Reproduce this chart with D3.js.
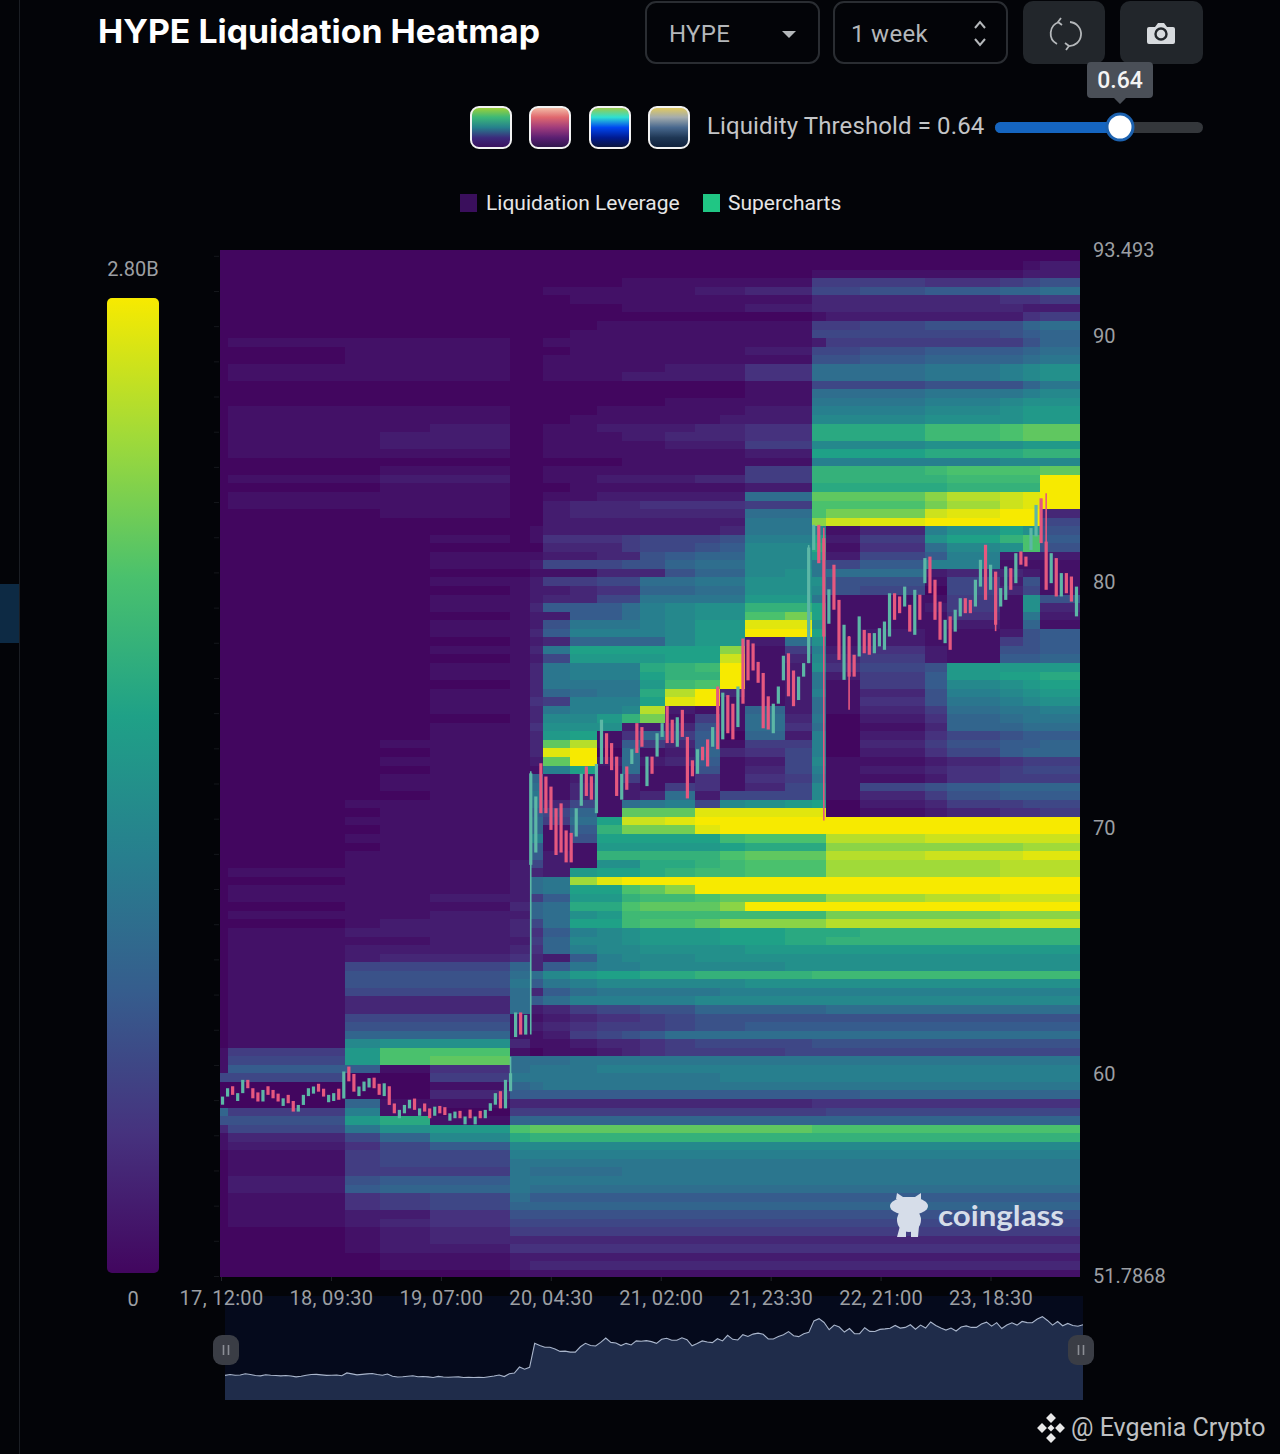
<!DOCTYPE html>
<html>
<head>
<meta charset="utf-8">
<title>HYPE Liquidation Heatmap</title>
<script src="https://cdn.jsdelivr.net/npm/d3@7"></script>
<style>
  html, body { margin: 0; padding: 0; background: #030408; }
  svg { display: block; }
  text { font-family: Roboto, "Noto Sans", sans-serif; }
</style>
</head>
<body>
<div id="chart"></div>
<script>
// price and time limits of the heatmap (hours from 17, 12:00)
const priceMax = 93.493;
const priceMin = 51.7868;
const hoursTotal = 168;
const priceTicks = [93.493, 90, 80, 70, 60, 51.7868];
const timeTicks = [0, 21.5, 43, 64.5, 86, 107.5, 129, 150.5];
const timeLabels = ["17, 12:00", "18, 09:30", "19, 07:00", "20, 04:30", "21, 02:00", "21, 23:30", "22, 21:00", "23, 18:30"];
const rowOffset = 0.3; // rows sit a little below the top of the axis

// start hour of each heatmap column, last entry closes the last one
const columnHours = [0, 1.6, 24.4, 31.3, 41.1, 56.7, 60.6, 63.2, 68.5, 73.7, 78.6, 82.1, 87, 92.9, 97.8, 102.7, 110.5, 115.8, 118.5, 125.2, 137.9, 142.2, 152.5, 157, 160.4, 168];

// liquidation leverage per price row (top to bottom) and column, in 0.1B units
const heatRows = [
  [0,0,0,0,0,0,0,0,0,0,0,0,0,0,0,0,0,0,0,0,0,0,0,0,0],
  [0,0,0,0,0,0,0,0,0,0,0,0,0,0,0,0,0,0,0,0,0,0,0,1,2],
  [0,0,0,0,0,0,0,0,0,0,0,0,0,0,0,0,0,1,1,1,1,1,1,2,2],
  [0,0,0,0,0,0,0,0,0,0,1,1,1,1,1,1,1,5,5,5,4,4,5,6,7],
  [0,0,0,0,0,0,0,1,1,1,1,1,1,2,2,3,3,6,6,7,8,8,9,9,10],
  [0,0,0,0,0,0,0,0,1,1,1,1,1,1,1,1,1,3,3,3,3,3,4,4,5],
  [0,0,0,0,0,0,0,0,0,0,1,1,1,1,1,2,2,3,3,3,3,3,3,2,2],
  [0,0,0,0,0,0,0,0,0,0,0,0,0,0,0,0,0,1,2,2,2,2,2,4,5],
  [0,0,0,0,0,0,0,0,0,1,1,1,1,1,1,1,1,5,5,6,7,7,7,9,10],
  [0,0,0,0,0,0,0,0,1,1,1,1,1,1,1,1,1,6,6,6,6,6,7,8,9],
  [0,1,1,1,1,0,0,1,1,1,1,1,1,1,1,1,1,2,5,5,5,5,5,7,9],
  [0,0,1,1,1,0,0,0,1,1,1,1,1,1,1,2,2,6,6,7,8,8,8,9,10],
  [0,0,1,1,1,0,0,1,1,1,1,1,1,1,1,1,1,7,7,8,9,9,9,10,11],
  [0,1,1,1,1,0,0,1,1,1,1,1,2,2,2,4,4,10,10,10,11,11,12,13,14],
  [0,1,1,1,1,0,0,1,1,1,2,2,2,2,2,4,4,10,10,10,11,11,12,13,14],
  [0,0,0,0,0,0,0,0,0,0,0,0,0,0,0,1,1,6,6,6,7,7,7,9,11],
  [0,0,0,0,0,0,0,0,0,0,0,0,0,0,0,1,1,10,10,10,11,11,11,12,13],
  [0,0,0,0,0,0,0,0,0,0,0,0,1,1,1,1,1,11,11,11,12,12,13,14,14],
  [0,1,1,1,1,0,0,0,0,1,1,1,1,1,1,2,2,12,12,12,13,13,14,15,15],
  [0,1,1,1,1,0,0,0,1,1,1,1,1,1,2,2,2,13,13,13,14,14,14,15,15],
  [0,1,1,1,2,0,0,1,1,2,2,2,2,3,3,4,4,17,17,17,19,19,20,21,21],
  [0,1,1,2,2,0,0,1,1,1,2,2,3,3,3,4,4,17,17,17,19,19,20,21,21],
  [0,1,1,2,2,0,0,1,1,1,1,1,2,2,2,5,5,13,13,13,14,14,14,15,15],
  [0,1,1,1,1,0,0,1,1,1,1,1,1,1,1,2,2,16,16,16,17,17,17,18,18],
  [0,0,0,0,0,0,0,0,0,0,1,1,1,1,1,1,1,12,12,12,12,12,13,13,13],
  [0,0,0,1,1,0,0,1,1,1,1,1,1,1,1,5,5,18,18,18,19,20,20,20,21],
  [0,1,1,2,2,0,0,1,1,2,2,2,2,3,3,5,5,18,18,18,18,19,19,19,28],
  [0,0,0,1,1,0,0,0,1,1,1,1,1,1,1,2,2,17,17,17,17,18,18,18,28],
  [0,1,1,1,1,0,0,1,1,2,2,2,2,2,2,10,10,21,21,21,23,25,26,27,28],
  [0,1,1,1,1,0,0,2,3,3,3,4,4,4,4,5,5,20,20,20,22,24,26,27,28],
  [0,0,0,1,1,0,0,2,3,3,3,3,3,3,3,10,10,20,22,22,26,27,28,28,3],
  [0,0,0,0,0,0,0,2,2,2,2,2,2,2,2,11,11,23,26,27,28,28,28,28,6],
  [0,0,0,0,0,0,1,2,2,2,2,2,2,2,3,11,11,12,1,3,12,14,16,14,7],
  [0,0,0,0,1,0,1,4,4,4,5,6,6,6,7,12,12,16,2,5,14,16,18,20,8],
  [0,0,0,0,0,0,0,3,3,3,5,6,6,7,8,13,13,17,1,4,10,13,14,20,7],
  [0,0,0,0,1,1,1,2,2,3,3,7,8,9,9,13,13,15,2,6,8,12,2,2,2],
  [0,0,0,0,1,1,2,6,6,6,7,7,9,10,10,13,13,11,6,8,12,12,1,1,1],
  [0,0,0,0,0,0,1,1,1,3,3,3,7,9,9,13,14,11,10,10,2,3,3,2,1],
  [0,0,0,0,1,1,2,5,5,6,6,10,10,11,11,14,14,14,7,7,1,6,2,7,1],
  [0,0,0,0,0,1,2,2,3,4,4,9,9,10,10,14,14,13,7,6,0,6,3,6,1],
  [0,0,0,0,1,1,2,3,3,6,6,11,11,11,11,15,15,11,1,1,1,5,1,14,7],
  [0,0,0,0,1,1,3,8,8,8,10,12,13,14,14,18,18,16,1,1,2,5,1,14,3],
  [0,0,0,0,0,1,2,2,8,8,10,12,13,14,14,20,22,16,1,1,1,4,1,11,2],
  [0,0,0,0,1,1,2,7,11,11,11,12,13,15,15,27,27,14,1,1,1,2,1,9,1],
  [0,0,0,0,1,1,3,8,12,12,12,12,13,15,15,28,28,16,1,2,1,1,2,7,8],
  [0,0,0,0,0,1,2,3,9,9,9,9,13,15,15,2,10,14,1,2,1,1,5,7,8],
  [0,0,0,0,1,1,3,11,16,16,16,16,16,16,23,1,5,12,2,4,2,1,7,7,8],
  [0,0,0,0,0,1,2,6,15,15,15,15,16,16,26,1,3,13,3,5,2,1,8,8,9],
  [0,0,0,0,1,1,3,11,12,12,12,17,18,19,28,1,2,14,4,6,7,15,15,15,15],
  [0,0,0,0,1,1,3,11,12,12,12,16,18,18,28,1,2,11,2,5,8,15,16,16,17],
  [0,0,0,0,0,1,3,11,11,11,11,15,19,20,28,1,2,11,1,5,8,13,14,15,16],
  [0,0,0,0,1,1,3,9,10,11,11,17,25,28,3,1,2,12,1,3,7,12,13,14,15],
  [0,0,0,0,1,1,4,5,12,12,12,16,27,28,1,1,2,10,1,4,7,11,12,13,14],
  [0,0,0,0,1,1,3,11,12,12,13,25,2,1,1,9,2,10,1,3,5,10,11,11,12],
  [0,0,0,0,0,1,3,13,13,15,18,22,1,5,1,10,3,11,0,2,4,9,10,11,11],
  [0,0,0,0,1,1,4,14,14,14,2,2,3,7,1,10,4,10,0,1,3,9,9,10,10],
  [0,0,0,0,1,1,3,15,16,1,4,9,5,8,0,9,2,12,0,2,4,6,7,8,8],
  [0,0,0,1,1,1,3,21,25,1,8,5,3,8,1,5,5,12,0,3,5,7,8,8,9],
  [0,0,0,0,1,1,3,27,28,0,10,1,2,9,3,4,6,12,0,2,4,6,8,9,9],
  [0,0,0,1,1,1,2,21,28,2,10,2,3,8,1,2,6,13,1,1,2,3,4,5,5],
  [0,0,0,0,1,1,1,12,16,1,10,1,1,7,1,3,6,12,1,2,3,4,5,6,6],
  [0,0,0,1,1,1,9,1,2,1,5,1,1,4,1,4,5,11,1,1,2,4,5,5,5],
  [0,0,0,1,1,1,10,1,3,1,2,1,5,4,1,3,6,13,1,6,7,8,9,9,9],
  [0,0,0,0,1,1,11,1,3,1,2,3,10,2,6,6,6,13,1,3,5,7,8,8,8],
  [0,0,1,1,1,1,10,3,6,1,10,11,12,6,13,14,15,16,0,2,3,5,5,6,6],
  [0,0,0,1,1,1,8,6,9,1,21,21,21,27,27,27,27,27,0,1,2,3,4,4,5],
  [0,0,1,1,1,1,9,5,10,16,26,26,27,28,28,28,28,28,28,28,28,28,28,28,28],
  [0,0,0,1,1,1,9,1,8,18,22,22,22,27,28,28,28,28,28,28,28,28,28,28,28],
  [0,0,1,1,1,1,12,1,7,16,16,16,16,16,19,20,20,20,25,25,26,26,26,26,26],
  [0,0,0,1,1,1,8,1,1,15,15,15,15,15,16,17,17,17,23,23,23,23,23,24,24],
  [0,0,1,1,1,1,8,2,1,18,18,18,18,18,20,21,21,21,25,25,26,26,26,27,27],
  [0,0,1,1,1,2,6,2,1,14,14,17,17,18,19,20,20,20,24,24,24,24,25,25,25],
  [0,1,1,1,1,2,3,2,15,16,16,17,18,19,19,20,20,20,24,24,24,24,25,25,25],
  [0,0,1,1,1,2,10,11,24,27,28,28,28,28,28,28,28,28,28,28,28,28,28,28,28],
  [0,1,1,1,1,2,10,11,16,16,20,21,23,28,28,28,28,28,28,28,28,28,28,28,28],
  [0,1,1,1,2,2,5,8,15,15,18,19,19,20,21,21,21,21,24,24,25,25,26,26,26],
  [0,0,1,1,1,3,9,10,17,17,20,21,21,21,23,28,28,28,28,28,28,28,28,28,28],
  [0,1,1,1,2,2,9,10,14,15,19,19,19,19,19,19,19,19,22,22,22,22,23,23,23],
  [0,0,1,2,2,3,6,10,16,16,19,20,20,21,23,23,23,23,25,25,25,25,26,26,26],
  [0,1,2,2,2,3,4,8,12,13,14,15,15,15,16,16,17,17,17,18,18,18,18,18,18],
  [0,1,1,1,2,2,5,9,13,13,14,15,15,15,16,16,17,17,18,18,18,18,18,18,18],
  [0,1,2,2,2,3,4,9,12,13,13,14,14,14,14,15,15,15,15,15,15,15,15,15,15],
  [0,1,2,3,3,4,3,2,8,12,13,13,13,14,14,14,14,14,14,14,14,14,14,14,14],
  [0,1,6,6,6,9,3,8,11,12,12,13,13,13,13,13,14,14,14,14,14,14,14,14,14],
  [0,1,7,7,7,10,10,13,15,16,16,17,17,18,18,18,18,19,19,19,19,19,19,19,19],
  [0,1,7,7,7,11,8,11,12,13,13,13,13,13,13,14,14,14,14,14,14,14,14,14,14],
  [0,1,6,6,6,10,3,8,10,11,11,11,11,11,12,12,12,12,12,12,12,12,12,12,12],
  [0,1,3,3,3,10,8,10,12,12,12,12,12,13,13,13,13,13,13,13,13,13,13,13,13],
  [0,1,3,3,3,10,2,3,5,6,6,7,7,9,9,9,9,9,10,10,10,10,10,10,10],
  [0,1,6,6,6,1,1,2,3,4,4,5,6,7,7,7,7,7,7,7,7,7,7,7,7],
  [0,1,7,7,7,1,2,3,4,5,5,5,6,7,7,8,8,8,8,8,8,8,8,8,8],
  [0,1,9,9,9,1,1,2,5,6,7,8,10,10,10,10,10,10,10,10,10,10,10,10,10],
  [0,1,13,14,14,3,1,1,2,3,3,4,5,6,6,6,6,7,7,7,7,7,7,7,7],
  [1,5,15,20,20,1,0,1,1,2,3,4,5,5,5,5,6,6,6,6,6,6,6,6,6],
  [1,6,15,20,21,10,10,10,11,11,11,11,11,11,11,11,11,11,11,11,11,11,11,11,11],
  [1,8,8,1,4,10,11,11,11,12,12,12,12,12,12,12,12,12,12,12,12,12,12,12,12],
  [6,6,0,0,5,11,11,11,11,11,11,11,11,11,12,12,12,12,12,12,12,12,12,12,12],
  [0,0,0,0,1,9,10,11,11,11,11,11,11,11,11,11,11,11,11,11,11,11,11,11,11],
  [0,0,0,0,3,8,8,8,8,8,8,8,8,8,8,8,8,8,8,9,9,9,9,9,9],
  [0,0,9,1,1,3,3,3,3,3,3,3,3,3,3,3,3,4,4,4,4,4,4,4,4],
  [9,5,12,1,0,5,5,5,5,5,5,5,5,5,5,5,5,5,6,6,6,6,6,6,6],
  [7,7,15,17,1,9,9,9,9,9,9,9,9,9,9,9,9,9,9,9,9,9,9,9,9],
  [3,6,11,14,15,20,21,21,21,21,21,21,21,21,21,21,21,20,20,20,20,20,20,20,20],
  [1,3,6,9,13,17,18,18,18,18,18,18,18,18,18,18,18,18,18,18,18,18,18,18,18],
  [1,2,4,6,8,13,13,13,13,13,13,13,13,13,13,13,13,13,13,13,13,13,13,13,13],
  [0,1,5,6,6,12,12,12,12,12,12,12,12,12,12,12,12,12,12,12,12,12,12,12,12],
  [0,1,5,6,6,11,11,11,11,11,11,11,11,11,11,11,11,11,11,11,11,11,11,11,11],
  [0,1,5,5,5,11,10,10,10,10,11,11,11,11,11,11,11,11,11,11,11,11,11,11,11],
  [0,2,7,8,8,11,11,11,11,11,11,11,11,11,11,11,11,11,11,11,11,11,11,11,11],
  [0,2,8,9,9,11,10,10,10,10,10,10,10,10,10,10,10,10,10,10,10,10,10,10,10],
  [0,1,4,5,6,10,8,8,8,8,8,8,8,8,8,8,8,8,8,8,8,8,8,8,8],
  [0,1,4,5,6,9,9,9,9,9,9,9,9,9,9,9,9,9,9,9,9,9,9,9,9],
  [0,1,2,2,4,7,7,7,7,7,7,7,7,7,7,7,7,7,7,7,7,7,7,7,7],
  [0,1,2,3,4,6,6,6,6,6,6,6,6,6,6,6,6,6,6,6,6,6,6,6,6],
  [0,0,1,2,3,5,5,5,5,5,5,5,5,5,5,5,5,5,5,5,5,5,5,5,5],
  [0,0,1,2,3,3,3,3,3,3,3,3,3,3,3,3,3,3,3,3,3,3,3,3,3],
  [0,0,1,2,2,4,4,4,4,4,4,4,4,4,4,4,4,4,4,4,4,4,4,4,4],
  [0,0,0,1,1,2,2,2,2,2,2,2,2,2,2,2,2,2,2,2,2,2,2,2,2],
  [0,0,0,1,1,2,3,3,3,3,3,3,3,3,3,3,3,3,3,3,3,3,3,3,3],
  [0,0,0,0,0,1,1,1,1,1,1,1,1,1,1,1,1,1,1,1,1,1,1,1,1]
];

// price candles, one every hour or so
const candleOpen = [
  58.75,59.08,59.5,58.9,59.22,59.76,59.42,59.25,58.88,59.5,59.35,59.2,58.7,59.15,58.9,58.47,58.74,59.1,59.2,59.6,
  59.4,58.85,58.9,59.4,59.0,60.3,60.0,59.1,59.3,59.45,59.85,59.6,59.1,59.5,58.8,58.2,58.4,58.6,59.0,58.3,
  58.8,58.6,58.3,58.7,58.65,58.1,58.2,58.5,57.95,58.55,57.95,58.5,58.2,58.5,58.75,59.3,58.6,59.3,
  61.5,62.5,61.6,
  68.5,69.0,72.63,72.09,71.68,70.8,71.0,69.9,69.8,69.65,70.9,72.5,72.1,70.6,72.6,73.85,73.45,72.9,71.15,72.5,
  72.6,74.26,74.1,71.7,72.9,72.9,73.7,74.95,74.4,73.3,74.8,73.7,72.75,72.2,73.3,73.6,73.3,75.75,73.6,75.4,
  75.05,74.1,77.7,77.65,77.5,76.75,76.3,75.35,73.85,75.05,76.0,77.1,76.4,75.2,76.15,
  76.7,81.3,82.32,81.78,78.3,80.7,79.27,76.02,77.78,77.04,76.97,78.05,77.92,77.1,77.38,77.24,77.78,79.54,79.41,79.0,
  79.07,77.85,79.48,79.95,81.03,80.09,79.2,77.51,78.6,77.98,78.6,79.34,79.27,79.0,79.81,81.51,79.68,80.42,79.0,79.27,
  80.56,79.95,81.24,81.03,81.3,81.85,83.4,81.64,79.95,80.97,79.41,80.36,80.22,78.6
];
const candleClose = [
  59.08,59.42,59.15,59.22,59.76,59.42,59.01,58.88,59.35,59.15,59.01,58.88,59.01,58.81,58.47,58.74,59.15,59.42,59.49,59.28,
  59.08,59.15,59.22,58.95,60.1,59.7,59.28,59.49,59.69,59.83,59.42,59.15,59.62,58.74,58.4,58.54,58.74,58.95,58.54,58.6,
  58.47,58.2,58.67,58.4,58.33,58.4,58.47,58.2,58.27,58.2,58.27,58.2,58.54,58.81,59.22,58.6,59.76,60.03,
  62.5,61.6,62.4,
  72.22,71.28,70.6,70.6,69.92,68.9,69.0,68.6,68.6,70.8,72.2,71.3,71.15,72.6,74.4,72.6,72.35,71.3,72.2,71.55,
  73.2,73.05,73.3,72.9,72.2,73.85,74.26,73.45,73.45,74.5,73.7,71.2,72.1,73.2,72.75,72.5,74.1,73.2,75.5,73.85,
  73.6,75.75,75.05,76.0,76.4,75.9,74.05,74.0,75.05,75.75,77.0,75.35,74.95,76.15,76.7,
  81.4,82.32,80.76,77.78,79.7,78.87,76.83,78.26,76.15,76.15,78.6,77.1,77.04,77.92,78.12,78.39,79.54,78.46,78.73,79.81,
  77.98,79.68,78.46,80.97,79.54,78.46,77.65,78.46,77.24,78.87,79.34,78.73,78.73,80.09,80.9,79.27,80.7,78.26,79.75,80.63,
  79.68,81.17,80.7,80.63,82.19,83.13,81.58,79.68,81.17,79.41,80.36,79.54,79.2,79.81
];
// the few candles with a wick long enough to see: candle index, high, low
const longWicks = [
  [57, 60.7, 59.7],
  [61, 72.3, 61.6],
  [116, 81.5, 76.7],
  [119, 82.2, 70.3],
  [124, 77.8, 74.8],
  [153, 80.4, 78.0],
  [163, 83.6, 81.6]
];

const legendStops = ["#42065f", "#46327e", "#365c8d", "#277f8e", "#1fa187", "#4ac16d", "#a0da39", "#f7ea00"];
const legendStopValues = [0, 4, 8, 12, 16, 20, 24, 28];
const legendLabels = ["Liquidation Leverage", "Supercharts"];
const paletteSwatches = [
  ["#a6d232", "#3cb878", "#26808c", "#3c2a7c", "#3a0f5c"],
  ["#f4c4ac", "#e0686e", "#a03c7c", "#5a1f72", "#2c1648"],
  ["#a6c83c", "#2ee0d2", "#0046f0", "#001a90", "#0c1434"],
  ["#e6cc58", "#a4acae", "#48688e", "#1e3654", "#10203a"]
];

const width = 1280;
const height = 1454;

const svg = d3.select("#chart").append("svg")
  .attr("width", width)
  .attr("height", height);
const defs = svg.append("defs");

svg.append("rect").attr("width", width).attr("height", height).attr("fill", "#030408");

// page edge left of the chart
svg.append("line").attr("x1", 19.5).attr("x2", 19.5).attr("y1", 0).attr("y2", height).attr("stroke", "#1b1e24");
svg.append("rect").attr("x", 0).attr("y", 584).attr("width", 19).attr("height", 59).attr("fill", "#0d2a44");

// scales
const x = d3.scaleLinear().domain([0, hoursTotal]).range([220, 1079]);
const y = d3.scaleLinear().domain([priceMin, priceMax]).range([1276, 250]);
const color = d3.scaleLinear().domain(legendStopValues).range(legendStops).clamp(true);

// heatmap cells
const priceStep = (priceMax - priceMin) / heatRows.length;
const rowTop = (r) => r === 0 ? y(priceMax) : y(priceMax - (r + rowOffset) * priceStep);
const rowBottom = (r) => r === heatRows.length - 1 ? y(priceMin) : rowTop(r + 1);
const cells = [];
heatRows.forEach((row, r) => {
  row.forEach((v, c) => {
    cells.push({ r: r, c: c, v: v });
  });
});
svg.append("g").attr("shape-rendering", "crispEdges")
  .selectAll("rect").data(cells).join("rect")
  .attr("x", (d) => x(columnHours[d.c]))
  .attr("width", (d) => x(columnHours[d.c + 1]) - x(columnHours[d.c]) + 0.5)
  .attr("y", (d) => rowTop(d.r))
  .attr("height", (d) => rowBottom(d.r) - rowTop(d.r) + 0.5)
  .attr("fill", (d) => color(d.v));

// candles
const candleX = d3.scaleBand().domain(d3.range(candleClose.length)).range([220, 1079]);
const isUp = (i) => candleClose[i] >= candleOpen[i];
const teal = "#5cb7a6";
const pink = "#e6587f";
svg.append("g").selectAll("line").data(longWicks).join("line")
  .attr("x1", (d) => candleX(d[0]) + candleX.bandwidth() / 2)
  .attr("x2", (d) => candleX(d[0]) + candleX.bandwidth() / 2)
  .attr("y1", (d) => y(d[1]))
  .attr("y2", (d) => y(d[2]))
  .attr("stroke", (d) => isUp(d[0]) ? teal : pink)
  .attr("stroke-width", 1.6);
svg.append("g").selectAll("rect").data(d3.range(candleClose.length)).join("rect")
  .attr("x", (i) => candleX(i) + candleX.bandwidth() / 2 - 1.6)
  .attr("width", 3.2)
  .attr("y", (i) => y(Math.max(candleOpen[i], candleClose[i])))
  .attr("height", (i) => Math.max(1, Math.abs(y(candleOpen[i]) - y(candleClose[i]))))
  .attr("fill", (i) => isUp(i) ? teal : pink);

// overview strip under the chart
const overviewX = d3.scaleLinear().domain([0, candleClose.length - 1]).range([225, 1083]);
const overviewY = d3.scaleLinear().domain([49, 91.6]).range([1400, 1296]);
svg.append("rect").attr("x", 225).attr("y", 1296).attr("width", 858).attr("height", 104).attr("fill", "#050a1c");
const overviewArea = d3.area().x((d, i) => overviewX(i)).y0(1400).y1((d) => overviewY(d));
const overviewLine = d3.line().x((d, i) => overviewX(i)).y((d) => overviewY(d));
svg.append("path").datum(candleClose).attr("d", overviewArea).attr("fill", "#1f2c4a");
svg.append("path").datum(candleClose).attr("d", overviewLine).attr("fill", "none").attr("stroke", "#aab6cc").attr("stroke-width", 1.1);
[226, 1081].forEach((cx) => {
  svg.append("rect").attr("x", cx - 13).attr("y", 1335).attr("width", 26).attr("height", 30).attr("rx", 9).attr("fill", "#3a3d45");
  svg.append("path").attr("d", `M${cx - 2.5},1345v10M${cx + 2.5},1345v10`).attr("stroke", "#8b8e95").attr("stroke-width", 1.6);
});

// axes
const yAxis = d3.axisRight(y).tickValues(priceTicks).tickSize(0).tickPadding(13).tickFormat((d) => String(d));
const yAxisG = svg.append("g").attr("transform", "translate(1080,0)").call(yAxis);
yAxisG.select(".domain").remove();
yAxisG.selectAll("text").attr("fill", "#9c9fa3").attr("font-size", 20);

const yMinor = d3.axisLeft(y).tickValues(d3.range(priceMin, priceMax, 1.43)).tickSize(5).tickFormat("");
const yMinorG = svg.append("g").attr("transform", "translate(219,0)").call(yMinor);
yMinorG.select(".domain").remove();
yMinorG.selectAll("line").attr("stroke", "#16181d");

const xAxis = d3.axisBottom(x).tickValues(timeTicks).tickSize(4).tickPadding(10).tickFormat((d, i) => timeLabels[i]);
const xAxisG = svg.append("g").attr("transform", "translate(1,1277)").call(xAxis);
xAxisG.select(".domain").remove();
xAxisG.selectAll("line").attr("stroke", "#23262b");
xAxisG.selectAll("text").attr("fill", "#9c9fa3").attr("font-size", 20).attr("letter-spacing", 0.3);

// colour bar
const barGrad = defs.append("linearGradient").attr("id", "barGrad").attr("x1", 0).attr("x2", 0).attr("y1", 1).attr("y2", 0);
legendStops.forEach((c, i) => {
  barGrad.append("stop").attr("offset", legendStopValues[i] / 28).attr("stop-color", c);
});
svg.append("rect").attr("x", 107).attr("y", 298).attr("width", 52).attr("height", 975).attr("rx", 5).attr("fill", "url(#barGrad)");
svg.append("text").attr("x", 133).attr("y", 276).attr("text-anchor", "middle").attr("fill", "#9c9fa3").attr("font-size", 20).text("2.80B");
svg.append("text").attr("x", 133).attr("y", 1306).attr("text-anchor", "middle").attr("fill", "#9c9fa3").attr("font-size", 20).text("0");

// title and controls
svg.append("text").attr("x", 98).attr("y", 43).attr("fill", "#ffffff")
  .style("font-family", "Inter, Lato, sans-serif").attr("font-weight", 700).attr("font-size", 33)
  .attr("textLength", 442).attr("lengthAdjust", "spacingAndGlyphs").text("HYPE Liquidation Heatmap");

const boxes = [{ x: 646, label: "HYPE" }, { x: 834, label: "1 week" }];
svg.append("g").selectAll("rect").data(boxes).join("rect")
  .attr("x", (d) => d.x).attr("y", 2).attr("width", 173).attr("height", 61).attr("rx", 10)
  .attr("fill", "none").attr("stroke", "#2a2d32").attr("stroke-width", 2);
svg.append("g").selectAll("text").data(boxes).join("text")
  .attr("x", (d) => d.x + (d.label === "HYPE" ? 23 : 17)).attr("y", 42)
  .attr("fill", "#b4b7ba").attr("font-size", 24).attr("letter-spacing", 0.3).text((d) => d.label);
svg.append("path").attr("d", "M782,31h14l-7,7z").attr("fill", "#b4b7ba");
svg.append("path").attr("d", "M975,28l5,-6l5,6M975,39l5,6l5,-6").attr("fill", "none").attr("stroke", "#b4b7ba").attr("stroke-width", 2);

svg.append("rect").attr("x", 1023).attr("y", 1).attr("width", 82).attr("height", 63).attr("rx", 10).attr("fill", "#22262b");
svg.append("rect").attr("x", 1120).attr("y", 1).attr("width", 83).attr("height", 63).attr("rx", 10).attr("fill", "#22262b");
// refresh icon
svg.append("path").attr("d", "M1059,22a12,12 0 0 0 -2,22M1068,46a12,12 0 0 0 2,-24M1061,18l-3,4l4,3M1066,50l3,-4l-4,-3")
  .attr("fill", "none").attr("stroke", "#b4b7ba").attr("stroke-width", 1.8);
// camera icon
svg.append("path").attr("d", "M1149,27h6l3,-4h6l3,4h6a2,2 0 0 1 2,2v13a2,2 0 0 1 -2,2h-24a2,2 0 0 1 -2,-2v-13a2,2 0 0 1 2,-2z").attr("fill", "#d7dade");
svg.append("circle").attr("cx", 1161).attr("cy", 34).attr("r", 5.5).attr("fill", "none").attr("stroke", "#22262b").attr("stroke-width", 2.4);

// palette swatches
const swatchX = [470, 529, 589, 648];
paletteSwatches.forEach((stops, i) => {
  const g = defs.append("linearGradient").attr("id", "swatch" + i).attr("x1", 0).attr("x2", 0).attr("y1", 0).attr("y2", 1);
  stops.forEach((c, j) => g.append("stop").attr("offset", j / (stops.length - 1)).attr("stop-color", c));
  svg.append("rect").attr("x", swatchX[i] + 1).attr("y", 107).attr("width", 40).attr("height", 41).attr("rx", 8)
    .attr("fill", "url(#swatch" + i + ")").attr("stroke", "#f2f2f2").attr("stroke-width", 2);
});

// threshold slider
svg.append("text").attr("x", 707).attr("y", 134).attr("fill", "#c3c5c7").attr("font-size", 24).attr("letter-spacing", 0.12).text("Liquidity Threshold = 0.64");
svg.append("rect").attr("x", 995).attr("y", 122).attr("width", 208).attr("height", 11).attr("rx", 5.5).attr("fill", "#34373b");
svg.append("rect").attr("x", 995).attr("y", 122).attr("width", 125).attr("height", 11).attr("rx", 5.5).attr("fill", "#1565c0");
svg.append("circle").attr("cx", 1120).attr("cy", 127).attr("r", 13).attr("fill", "#ffffff").attr("stroke", "#1c62b0").attr("stroke-width", 3);
svg.append("path").attr("d", "M1087,66a4,4 0 0 1 4,-4h58a4,4 0 0 1 4,4v28a4,4 0 0 1 -4,4h-23l-6,6l-6,-6h-23a4,4 0 0 1 -4,-4z").attr("fill", "#4a4f57");
svg.append("text").attr("x", 1120).attr("y", 88).attr("text-anchor", "middle").attr("fill", "#f4f4f4").attr("font-size", 23).attr("font-weight", 500).text("0.64");

// series legend
svg.append("rect").attr("x", 460).attr("y", 194).attr("width", 17).attr("height", 18).attr("fill", "#3a0f5c");
svg.append("rect").attr("x", 703).attr("y", 194).attr("width", 17).attr("height", 18).attr("fill", "#20c684");
svg.append("text").attr("x", 486).attr("y", 210).attr("fill", "#e6e6e6").attr("font-size", 21).text(legendLabels[0]);
svg.append("text").attr("x", 728).attr("y", 210).attr("fill", "#e6e6e6").attr("font-size", 21).text(legendLabels[1]);

// watermark
const mark = svg.append("g").attr("fill", "#d6dde9");
mark.append("ellipse").attr("cx", 909).attr("cy", 1206).attr("rx", 19).attr("ry", 9);
mark.append("path").attr("d", "M896,1199l1,-6l6,4h12l6,-4l0,6z");
mark.append("ellipse").attr("cx", 909).attr("cy", 1220).attr("rx", 12).attr("ry", 12);
mark.append("path").attr("d", "M900,1226h6v11h-9zM911,1226h8l-1,11h-7z");
svg.append("text").attr("x", 938).attr("y", 1226).attr("fill", "#d6dde9")
  .style("font-family", "Lato, sans-serif").attr("font-weight", 700).attr("font-size", 29)
  .attr("textLength", 126).attr("lengthAdjust", "spacingAndGlyphs").text("coinglass");

// credit
const credit = svg.append("g").attr("fill", "#e8e8e8");
[[1051, 1418], [1042, 1428], [1060, 1428], [1051, 1438]].forEach((p) => {
  credit.append("rect").attr("x", p[0] - 3.5).attr("y", p[1] - 3.5).attr("width", 7).attr("height", 7)
    .attr("transform", `rotate(45 ${p[0]} ${p[1]})`);
});
credit.append("rect").attr("x", 1048.5).attr("y", 1425.5).attr("width", 5).attr("height", 5).attr("transform", "rotate(45 1051 1428)");
svg.append("text").attr("x", 1071).attr("y", 1436).attr("fill", "#bfc0c2").attr("font-size", 25).text("@ Evgenia Crypto");
</script>
</body>
</html>
